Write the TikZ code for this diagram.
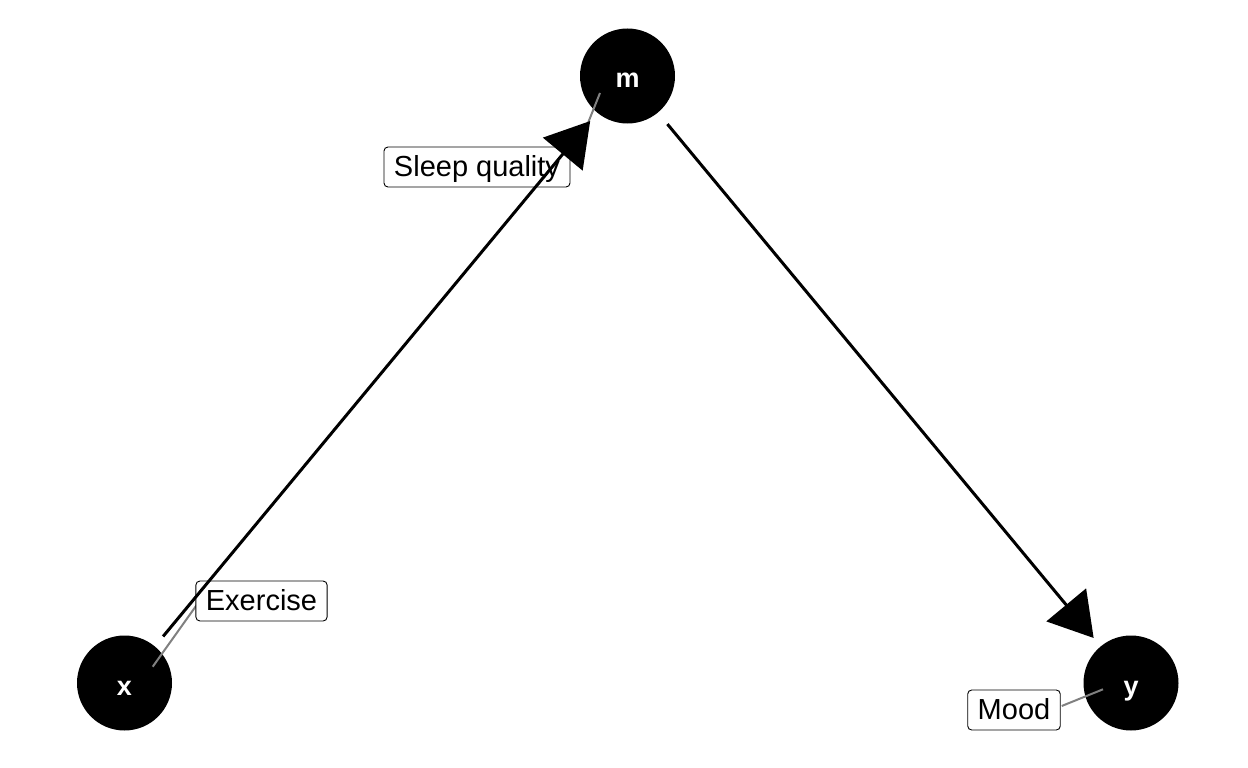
\documentclass[tikz,border=0pt]{standalone}
\usepackage{fontspec}
\setmainfont{Liberation Sans}
\usetikzlibrary{arrows.meta}
\begin{document}
\begin{tikzpicture}[x=1pt,y=-1pt,
  var/.style={circle,fill=black,draw=none,minimum size=95pt,inner sep=0pt,outer sep=0pt,
    text=white,font=\fontsize{27}{31}\selectfont\bfseries,text height=24pt,text depth=0pt},
  tag/.style={draw=black,line width=0.9pt,fill=white,rounded corners=4pt,
    font=\fontsize{29}{34}\selectfont,inner xsep=10pt,inner ysep=0pt,
    text height=24pt,text depth=5pt,minimum height=40pt},
  leader/.style={draw=black!50,line width=2pt},
  edge/.style={draw=black,line width=3pt,-{Triangle[length=43pt,width=51pt]},
    shorten <=13pt,shorten >=11pt}]
\useasboundingbox (0,0) rectangle (1248,768);

% variables
\node[var] (m) at (627.5,76) {m};
\node[var] (x) at (124.5,683) {x};
\node[var] (y) at (1131,683) {y};

% leader segments from each tag towards its variable
\coordinate (sA) at (600,93);   \coordinate (sB) at (584,133);
\coordinate (eA) at (152.7,666.7); \coordinate (eB) at (196.7,605);
\coordinate (mA) at (1103,689.3); \coordinate (mB) at (1061.7,706);
\draw[leader] (sA) -- (sB);
\draw[leader] (eA) -- (eB);
\draw[leader] (mA) -- (mB);

% tags
\node[tag] (tm) at (477,167) {Sleep quality};
\node[tag] (tx) at (261.5,601) {Exercise};
\node[tag] (ty) at (1014,710) {Mood};

% causal paths
\draw[edge] (x) -- (m);
\draw[edge,shorten <=15pt] (m) -- (y);
\end{tikzpicture}
\end{document}
